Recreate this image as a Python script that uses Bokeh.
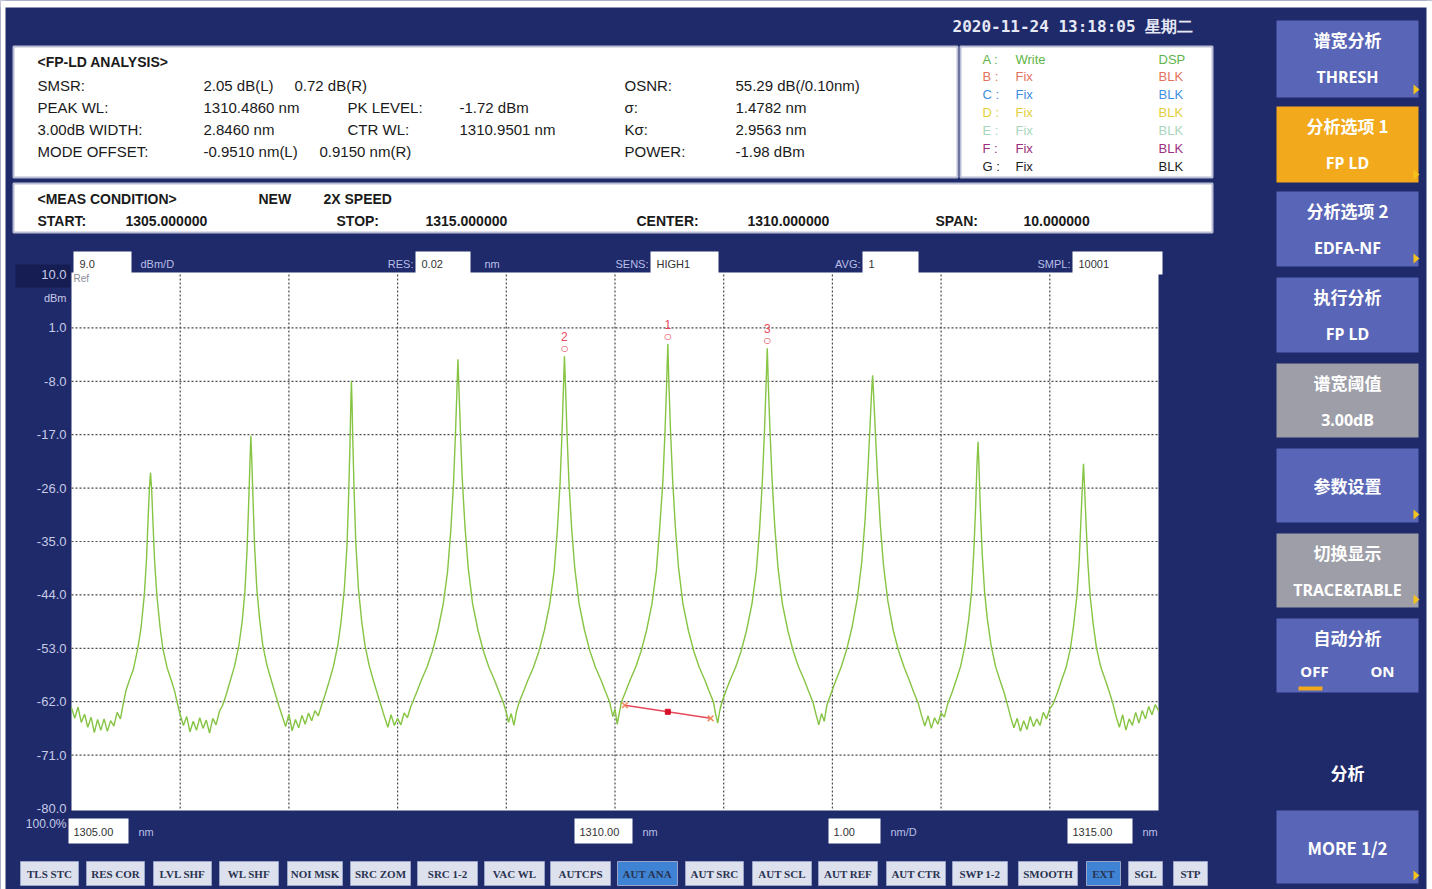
from bokeh.plotting import figure
from bokeh.models import Range1d, ColumnDataSource
from bokeh.core.properties import value
from bokeh.embed import file_html
from bokeh.resources import INLINE

# ------------------------------------------------------------------ data
START_WL = 1305.0
STOP_WL = 1315.0
TOP_DBM = 10.0
BOTTOM_DBM = -80.0
Y_TICKS = [10.0, 1.0, -8.0, -17.0, -26.0, -35.0, -44.0, -53.0, -62.0, -71.0, -80.0]
X_GRID = [1306.0, 1307.0, 1308.0, 1309.0, 1310.0, 1311.0, 1312.0, 1313.0, 1314.0]
Y_GRID = [1.0, -8.0, -17.0, -26.0, -35.0, -44.0, -53.0, -62.0, -71.0]

FLOOR_LEFT = [(1305.00, -63.0), (1305.03, -64.8), (1305.06, -62.9), (1305.09, -65.5), (1305.12, -64.1),
              (1305.15, -66.3), (1305.18, -64.6), (1305.21, -67.2), (1305.24, -65.0), (1305.27, -66.8),
              (1305.30, -64.9), (1305.33, -67.0), (1305.36, -65.2), (1305.39, -66.1), (1305.42, -63.8),
              (1305.45, -64.9), (1305.48, -62.0)]
MODE_1 = [(1305.50, -60.2), (1305.53, -58.5), (1305.57, -56.5), (1305.61, -53.0), (1305.64, -49.5),
          (1305.67, -44.0), (1305.69, -38.0), (1305.705, -31.0), (1305.717, -26.0), (1305.727, -23.4),
          (1305.738, -26.5), (1305.75, -32.0), (1305.765, -38.5), (1305.785, -44.0), (1305.815, -49.5),
          (1305.84, -53.0), (1305.88, -56.3), (1305.92, -58.5), (1305.95, -60.3), (1305.97, -62.0)]
FLOOR_1_2 = [(1306.00, -64.2), (1306.03, -66.0), (1306.06, -64.5), (1306.09, -67.1), (1306.12, -65.3),
             (1306.15, -66.8), (1306.18, -64.7), (1306.21, -66.5), (1306.24, -65.1), (1306.27, -67.3),
             (1306.30, -64.8), (1306.33, -65.9), (1306.36, -63.7), (1306.39, -62.6)]
MODE_2 = [(1306.42, -61.0), (1306.46, -58.5), (1306.50, -56.0), (1306.54, -52.5), (1306.57, -48.5),
          (1306.595, -43.5), (1306.615, -36.5), (1306.63, -28.5), (1306.642, -21.5), (1306.650, -17.2),
          (1306.658, -21.0), (1306.67, -28.0), (1306.685, -36.0), (1306.705, -43.0), (1306.73, -48.0),
          (1306.76, -52.5), (1306.80, -56.0), (1306.84, -58.5), (1306.88, -61.0), (1306.91, -62.8)]
FLOOR_2_3 = [(1306.94, -64.5), (1306.97, -66.2), (1307.00, -64.1), (1307.03, -66.9), (1307.06, -65.0),
             (1307.09, -66.4), (1307.12, -64.3), (1307.15, -65.8), (1307.18, -63.9), (1307.21, -65.2),
             (1307.24, -63.5), (1307.27, -64.4), (1307.30, -62.6)]
MODE_3 = [(1307.33, -61.0), (1307.37, -58.6), (1307.41, -56.0), (1307.45, -52.5), (1307.48, -48.5),
          (1307.51, -43.0), (1307.535, -35.5), (1307.55, -27.0), (1307.562, -18.5), (1307.570, -11.5),
          (1307.575, -7.9), (1307.580, -11.0), (1307.588, -18.0), (1307.60, -26.5), (1307.615, -35.0),
          (1307.64, -43.0), (1307.67, -48.5), (1307.70, -52.5), (1307.74, -56.0), (1307.78, -58.6),
          (1307.82, -61.0), (1307.85, -62.8)]
FLOOR_3_4 = [(1307.88, -64.6), (1307.91, -66.3), (1307.94, -64.2), (1307.97, -66.0), (1308.00, -64.8),
             (1308.03, -65.9), (1308.06, -63.9), (1308.09, -64.7), (1308.12, -62.9)]
MODE_4 = [(1308.14, -62.0), (1308.18, -60.2), (1308.22, -58.3), (1308.27, -56.2), (1308.32, -53.5),
          (1308.37, -50.0), (1308.42, -45.5), (1308.46, -40.0), (1308.49, -33.0), (1308.515, -25.0),
          (1308.532, -17.0), (1308.545, -10.0), (1308.555, -4.3), (1308.565, -9.5), (1308.578, -16.5),
          (1308.595, -24.5), (1308.62, -32.5), (1308.65, -39.5), (1308.69, -45.5), (1308.74, -50.0),
          (1308.79, -53.5), (1308.84, -56.2), (1308.89, -58.3), (1308.93, -60.2), (1308.97, -62.0)]
FLOOR_4_5 = [(1309.00, -63.8), (1309.02, -65.5), (1309.045, -64.0), (1309.07, -66.0), (1309.095, -63.5),
             (1309.12, -62.0)]
MODE_5 = [(1309.16, -60.2), (1309.20, -58.3), (1309.25, -56.2), (1309.30, -53.5), (1309.35, -50.0),
          (1309.40, -45.5), (1309.44, -40.0), (1309.47, -33.0), (1309.495, -25.0), (1309.512, -17.0),
          (1309.525, -9.5), (1309.535, -3.77), (1309.545, -9.0), (1309.558, -16.5), (1309.575, -24.5),
          (1309.60, -32.5), (1309.63, -39.5), (1309.67, -45.5), (1309.72, -50.0), (1309.77, -53.5),
          (1309.82, -56.2), (1309.87, -58.3), (1309.91, -60.2), (1309.95, -62.0)]
FLOOR_5_6 = [(1309.98, -64.5), (1310.00, -63.2), (1310.02, -65.8), (1310.04, -63.9), (1310.06, -62.0)]
MODE_6 = [(1310.10, -60.2), (1310.14, -58.3), (1310.19, -56.2), (1310.24, -53.5), (1310.29, -50.0),
          (1310.34, -45.5), (1310.38, -40.0), (1310.41, -33.0), (1310.44, -25.0), (1310.46, -16.5),
          (1310.474, -9.0), (1310.486, -1.72), (1310.496, -8.5), (1310.51, -16.0), (1310.53, -24.5),
          (1310.555, -32.5), (1310.585, -39.5), (1310.625, -45.5), (1310.675, -50.0), (1310.725, -53.5),
          (1310.775, -56.2), (1310.825, -58.3), (1310.865, -60.2), (1310.905, -62.0)]
FLOOR_6_7 = [(1310.925, -64.0), (1310.945, -65.6), (1310.965, -63.4), (1310.985, -62.0)]
MODE_7 = [(1311.02, -60.2), (1311.06, -58.3), (1311.11, -56.2), (1311.16, -53.5), (1311.21, -50.0),
          (1311.26, -45.5), (1311.30, -40.0), (1311.33, -33.0), (1311.355, -25.0), (1311.375, -16.5),
          (1311.389, -9.0), (1311.401, -2.44), (1311.411, -8.8), (1311.425, -16.0), (1311.445, -24.5),
          (1311.47, -32.5), (1311.50, -39.5), (1311.54, -45.5), (1311.59, -50.0), (1311.64, -53.5),
          (1311.69, -56.2), (1311.74, -58.3), (1311.78, -60.2), (1311.82, -62.0)]
FLOOR_7_8 = [(1311.85, -64.2), (1311.875, -65.9), (1311.90, -64.0), (1311.925, -65.3), (1311.95, -62.5)]
MODE_8 = [(1311.99, -60.5), (1312.03, -58.5), (1312.08, -56.2), (1312.13, -53.3), (1312.18, -49.5),
          (1312.23, -44.5), (1312.27, -38.5), (1312.30, -31.5), (1312.325, -23.5), (1312.345, -16.0),
          (1312.36, -10.0), (1312.370, -7.0), (1312.38, -10.5), (1312.395, -16.5), (1312.415, -24.0),
          (1312.44, -32.0), (1312.47, -39.0), (1312.51, -45.0), (1312.56, -50.0), (1312.61, -53.5),
          (1312.66, -56.2), (1312.71, -58.5), (1312.75, -60.5), (1312.79, -62.3)]
FLOOR_8_9 = [(1312.82, -64.3), (1312.85, -66.1), (1312.88, -64.4), (1312.91, -66.5), (1312.94, -64.7),
             (1312.97, -65.8), (1313.00, -63.9), (1313.03, -64.6), (1313.06, -62.4)]
MODE_9 = [(1313.10, -60.5), (1313.14, -58.3), (1313.18, -56.0), (1313.22, -52.5), (1313.255, -48.0),
          (1313.28, -43.5), (1313.30, -37.0), (1313.318, -29.0), (1313.33, -22.0), (1313.340, -18.2),
          (1313.348, -22.0), (1313.36, -29.0), (1313.378, -37.0), (1313.40, -43.5), (1313.425, -48.0),
          (1313.46, -52.5), (1313.50, -56.0), (1313.54, -58.3), (1313.58, -60.5), (1313.61, -62.5)]
FLOOR_9_10 = [(1313.64, -64.6), (1313.67, -66.4), (1313.70, -64.8), (1313.73, -67.0), (1313.76, -65.2),
              (1313.79, -66.7), (1313.82, -64.5), (1313.85, -66.2), (1313.88, -64.9), (1313.91, -66.0),
              (1313.94, -63.8), (1313.97, -64.9), (1314.00, -63.2), (1314.03, -62.4)]
MODE_10 = [(1314.07, -60.5), (1314.11, -58.3), (1314.15, -56.2), (1314.19, -53.0), (1314.22, -49.0),
           (1314.25, -44.0), (1314.27, -38.5), (1314.285, -32.0), (1314.30, -25.5), (1314.310, -21.9),
           (1314.32, -26.0), (1314.335, -32.5), (1314.35, -38.5), (1314.37, -44.0), (1314.40, -49.0),
           (1314.43, -53.0), (1314.47, -56.2), (1314.51, -58.3), (1314.55, -60.5), (1314.58, -62.3)]
FLOOR_RIGHT = [(1314.61, -64.5), (1314.64, -66.3), (1314.67, -64.2), (1314.70, -66.8), (1314.73, -64.9),
               (1314.76, -66.0), (1314.79, -63.8), (1314.82, -65.6), (1314.85, -63.5), (1314.88, -64.9),
               (1314.91, -62.8), (1314.94, -64.2), (1314.97, -62.5), (1315.00, -63.5)]

MARKER_WL = [1309.535, 1310.486, 1311.401]
MARKER_DBM = [-3.77, -1.72, -2.44]
MARKER_LABEL = ["2", "1", "3"]
LINE_WL = [1310.09, 1310.88]
LINE_DBM = [-62.6, -64.8]
LINE_MID_WL = [1310.486]
LINE_MID_DBM = [-63.7]

ANALYSIS_ROWS = [
    ["SMSR:", "2.05 dB(L)", "", "", "OSNR:", "55.29 dB(/0.10nm)"],
    ["PEAK WL:", "1310.4860 nm", "PK LEVEL:", "-1.72 dBm", "\u03c3:", "1.4782 nm"],
    ["3.00dB WIDTH:", "2.8460 nm", "CTR WL:", "1310.9501 nm", "K\u03c3:", "2.9563 nm"],
    ["MODE OFFSET:", "-0.9510 nm(L)", "", "", "POWER:", "-1.98 dBm"],
]
ANALYSIS_RIGHT_PARTS = ["0.72 dB(R)", "0.9150 nm(R)"]
TRACE_NAMES = ["A :", "B :", "C :", "D :", "E :", "F :", "G :"]
TRACE_MODES = ["Write", "Fix", "Fix", "Fix", "Fix", "Fix", "Fix"]
TRACE_DISP = ["DSP", "BLK", "BLK", "BLK", "BLK", "BLK", "BLK"]
TRACE_COLORS = ["#5fb548", "#e3735e", "#3f8fe0", "#e3cf3a", "#a9d6bd", "#9b2f7e", "#1e1e1e"]
BOTTOM_KEYS = ["TLS STC", "RES COR", "LVL SHF", "WL SHF", "NOI MSK", "SRC ZOM", "SRC 1-2", "VAC WL",
               "AUTCPS", "AUT ANA", "AUT SRC", "AUT SCL", "AUT REF", "AUT CTR", "SWP 1-2", "SMOOTH",
               "EXT", "SGL", "STP"]
BOTTOM_KEYS_ON = ["AUT ANA", "EXT"]

# ------------------------------------------------------------------ layout (screen pixels)
NAVY = "#1f2a6b"
PL, PR, PT, PB = 71, 1158, 274, 808          # plot frame in page pixels
XMIN, XMAX, YMIN, YMAX = 0, 1432, 0, 889       # the figure on the page

p = figure(width=XMAX - XMIN, height=YMAX - YMIN,
           x_range=Range1d(XMIN, XMAX), y_range=Range1d(YMAX, YMIN),
           x_axis_type=None, y_axis_type=None, toolbar_location=None,
           output_backend="svg", min_border=0, outline_line_color=None,
           background_fill_color=NAVY, border_fill_color=NAVY)
p.title.visible = False

kx = (STOP_WL - START_WL) / (PR - PL)
ky = (TOP_DBM - BOTTOM_DBM) / (PB - PT)
p.extra_x_ranges = {"wl": Range1d(START_WL - (PL - XMIN) * kx, STOP_WL + (XMAX - PR) * kx)}
p.extra_y_ranges = {"dbm": Range1d(BOTTOM_DBM - (YMAX - PB) * ky, TOP_DBM + (PT - YMIN) * ky)}


def box(l, r, t, b, fill, line=None, lw=1):
    p.quad(left=[l], right=[r], top=[t], bottom=[b], fill_color=fill,
           line_color=line, line_width=lw)


def txt(xs, ys, texts, color, size, font="Liberation Sans", style="normal",
        align="left", baseline="middle", xr="default", yr="default", yoff=0):
    src = ColumnDataSource(dict(x=list(xs), y=list(ys), text=list(texts)))
    p.text(x="x", y="y", text="text", source=src, text_color=color,
           text_font=value(font), text_font_size=value(f"{size}px"),
           text_font_style=style, text_align=align, text_baseline=baseline,
           x_range_name=xr, y_range_name=yr, y_offset=yoff)


# page margin strip (white) as in the screenshot
box(0, 1432, 0, 7, "white")
box(0, 5, 0, 889, "white")
box(1426, 1432, 0, 889, "white")

# ---------- top: date
txt([952], [26], ["2020-11-24 13:18:05 \u661f\u671f\u4e8c"], "#e6e8f4", 16,
    font="DejaVu Sans Mono", style="bold")

# ---------- analysis box
box(13, 957, 46, 177, "white", "#b9bdd3", 2)
txt([37], [61], ["<FP-LD ANALYSIS>"], "#1a1a1a", 14, style="bold")
cols = [37, 203, 347, 459, 624, 735]
rows_y = [85, 107, 129, 151]
for ry, row in zip(rows_y, ANALYSIS_ROWS):
    xs = [c for c, t in zip(cols, row) if t]
    ts = [t for t in row if t]
    txt(xs, [ry] * len(xs), ts, "#1a1a1a", 15)
txt([294, 319], [85, 151], ANALYSIS_RIGHT_PARTS, "#1a1a1a", 15)

# ---------- trace legend box
box(960, 1212, 46, 177, "white", "#b9bdd3", 2)
leg_y = [59, 76, 94, 112, 130, 148, 166]
for i in range(7):
    txt([982, 1015, 1158], [leg_y[i]] * 3, [TRACE_NAMES[i], TRACE_MODES[i], TRACE_DISP[i]],
        TRACE_COLORS[i], 13)

# ---------- measurement condition box
box(13, 1212, 183, 232, "white", "#b9bdd3", 2)
txt([37, 258, 323], [198] * 3, ["<MEAS CONDITION>", "NEW", "2X SPEED"], "#1a1a1a", 14, style="bold")
txt([37, 125, 336, 425, 636, 747, 935, 1023], [220] * 8,
    ["START:", "1305.000000", "STOP:", "1315.000000", "CENTER:", "1310.000000", "SPAN:", "10.000000"],
    "#1a1a1a", 14, style="bold")

# ---------- plot frame
box(PL, PR, PT - 2, PB + 2, "white")
hdr = [(73, 131, "9.0"), (415, 470, "0.02"), (650, 718, "HIGH1"), (862, 918, "1"), (1072, 1162, "10001")]
for l, r, t in hdr:
    box(l, r, 251, 274, "white")
txt([l + 6 for l, r, t in hdr], [263] * 5, [t for l, r, t in hdr], "#333333", 11)
txt([140, 484], [263, 263], ["dBm/D", "nm"], "#b9bfe6", 11)
txt([413, 648, 860, 1070], [263] * 4, ["RES:", "SENS:", "AVG:", "SMPL:"], "#b9bfe6", 11, align="right")

# grid
n = len(X_GRID)
p.segment(x0=X_GRID, x1=X_GRID, y0=[BOTTOM_DBM] * n, y1=[TOP_DBM] * n,
          x_range_name="wl", y_range_name="dbm", line_color="#4a4a4a",
          line_dash="2 2", line_width=1.2)
m = len(Y_GRID)
p.segment(x0=[START_WL] * m, x1=[STOP_WL] * m, y0=Y_GRID, y1=Y_GRID,
          x_range_name="wl", y_range_name="dbm", line_color="#4a4a4a",
          line_dash="2 2", line_width=1.2)

# y tick labels
box(15, 70, 264, 287, "#151d52")
txt([66] * len(Y_TICKS), Y_TICKS, [f"{v:.1f}" for v in Y_TICKS], "#c7cbe6", 13,
    align="right", yr="dbm")
txt([73], [278], ["Ref"], "#8a8a9a", 10)
txt([66], [297], ["dBm"], "#c7cbe6", 11, align="right")
txt([66], [823], ["100.0%"], "#c7cbe6", 12, align="right")

# ---------- spectrum trace
TRACE = (FLOOR_LEFT + MODE_1 + FLOOR_1_2 + MODE_2 + FLOOR_2_3 + MODE_3 + FLOOR_3_4 + MODE_4 +
         FLOOR_4_5 + MODE_5 + FLOOR_5_6 + MODE_6 + FLOOR_6_7 + MODE_7 + FLOOR_7_8 + MODE_8 +
         FLOOR_8_9 + MODE_9 + FLOOR_9_10 + MODE_10 + FLOOR_RIGHT)
trace_src = ColumnDataSource(dict(wl=[w for w, d in TRACE], dbm=[d for w, d in TRACE]))
p.line(x="wl", y="dbm", source=trace_src, x_range_name="wl", y_range_name="dbm",
       line_color="#86c443", line_width=1.4)

# markers
txt(MARKER_WL, MARKER_DBM, ["\u25cb"] * 3, "#e8485a", 14, align="center",
    xr="wl", yr="dbm", yoff=-8)
txt(MARKER_WL, MARKER_DBM, MARKER_LABEL, "#e8485a", 12, align="center",
    xr="wl", yr="dbm", yoff=-20)
p.line(LINE_WL, LINE_DBM, x_range_name="wl", y_range_name="dbm", line_color="#e8485a", line_width=1.5)
p.scatter(LINE_WL, LINE_DBM, x_range_name="wl", y_range_name="dbm", marker="x",
          size=8, line_color="#f08a5a", line_width=1.5)
p.scatter(LINE_MID_WL, LINE_MID_DBM, x_range_name="wl", y_range_name="dbm", marker="square",
          size=5, fill_color="#d8102a", line_color="#d8102a")

# ---------- x scale boxes under plot
xb = [(68, 128, "1305.00", "nm"), (574, 632, "1310.00", "nm"), (828, 880, "1.00", "nm/D"),
      (1067, 1132, "1315.00", "nm")]
for l, r, t, u in xb:
    box(l, r, 818, 843, "white")
txt([l + 5 for l, r, t, u in xb], [831] * 4, [t for l, r, t, u in xb], "#333333", 11)
txt([r + 10 for l, r, t, u in xb], [831] * 4, [u for l, r, t, u in xb], "#b9bfe6", 11)

# ---------- bottom soft keys
key_x = [(20, 78), (86, 144), (153, 211), (219, 278), (287, 342), (350, 410), (417, 477), (484, 544),
         (550, 610), (617, 677), (685, 743), (752, 811), (818, 877), (886, 945), (952, 1007),
         (1018, 1077), (1086, 1120), (1128, 1162), (1173, 1207)]
for (l, r), k in zip(key_x, BOTTOM_KEYS):
    on = k in BOTTOM_KEYS_ON
    box(l, r, 861, 885, "#3f84d4" if on else "#dde1ee", "#9aa3c8")
txt([(l + r) / 2 for l, r in key_x], [873] * len(key_x), BOTTOM_KEYS,
    "#2a3350", 11, font="Liberation Serif", style="bold", align="center")

# ---------- right soft-key panel
BLUE, ORANGE, GREY = "#5965b6", "#f2a91b", "#9d9ea8"
panel = [
    (20, 97, BLUE, ["\u8c31\u5bbd\u5206\u6790", "THRESH"], True),
    (106, 182, ORANGE, ["\u5206\u6790\u9009\u9879 1", "FP LD"], True),
    (191, 266, BLUE, ["\u5206\u6790\u9009\u9879 2", "EDFA-NF"], True),
    (277, 352, BLUE, ["\u6267\u884c\u5206\u6790", "FP LD"], False),
    (363, 437, GREY, ["\u8c31\u5bbd\u9608\u503c", "3.00dB"], False),
    (448, 522, BLUE, ["\u53c2\u6570\u8bbe\u7f6e"], True),
    (533, 607, GREY, ["\u5207\u6362\u663e\u793a", "TRACE&TABLE"], True),
    (618, 692, BLUE, ["\u81ea\u52a8\u5206\u6790", ""], False),
    (810, 883, BLUE, ["MORE 1/2"], True),
]
tri_x, tri_y = [], []
for t, b, col, lines, arrow in panel:
    box(1276, 1418, t, b, col)
    if len(lines) == 2:
        txt([1347], [t + 19], [lines[0]], "#ffffff", 17, font="Noto Sans CJK SC", style="bold", align="center")
        if lines[1]:
            txt([1347], [t + 56], [lines[1]], "#ffffff", 16, font="Noto Sans", style="bold", align="center")
    else:
        txt([1347], [(t + b) / 2], lines, "#ffffff", 17, font="Noto Sans CJK SC", style="bold", align="center")
    if arrow:
        tri_x.append([1413, 1419, 1413])
        tri_y.append([b - 13, b - 8, b - 3])
p.patches(tri_x, tri_y, fill_color="#f4c21c", line_color=None)
txt([1314, 1382], [670, 670], ["OFF", "ON"], "#ffffff", 15, font="Noto Sans", style="bold", align="center")
box(1298, 1322, 686, 690, "#f2a91b")
txt([1347], [772], ["\u5206\u6790"], "#ffffff", 17, font="Noto Sans CJK SC", style="bold", align="center")

open("out.html", "w").write(file_html(p, INLINE))
